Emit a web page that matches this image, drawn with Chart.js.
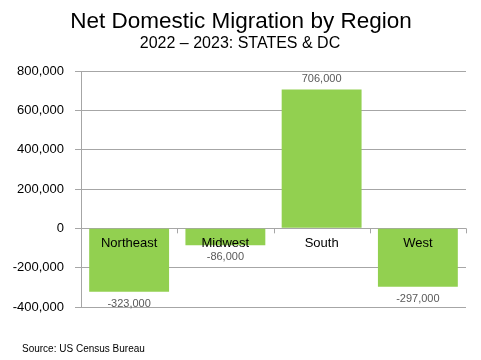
<!DOCTYPE html>
<html>
<head>
<meta charset="utf-8">
<script src="https://cdn.jsdelivr.net/npm/chart.js@4"></script>
<style>
  body { margin: 0; background: #fff; }
  #wrap { width: 481px; height: 360px; }
</style>
</head>
<body>
<div id="wrap"><canvas id="barChart" width="481" height="360"></canvas></div>
<script>
var regions = ['Northeast', 'Midwest', 'South', 'West'];
var migration = [-323000, -86000, 706000, -297000];
var yTicks = [-400000, -200000, 0, 200000, 400000, 600000, 800000];

var fmt = function (v) { return v.toLocaleString('en-US'); };

// title, subtitle, source note, category names and value labels
var extras = {
    id: 'extras',
    afterDraw: function (chart) {
        var c = chart.ctx;
        var x = chart.scales.x, y = chart.scales.y;
        var zero = y.getPixelForValue(0);
        c.save();
        c.textAlign = 'center';
        c.textBaseline = 'alphabetic';
        c.fillStyle = '#000';
        c.font = '22.5px "Liberation Sans", Arial';
        c.fillText('Net Domestic Migration by Region', 241, 28);
        c.font = '16px "Liberation Sans", Arial';
        c.fillText('2022 \u2013 2023: STATES & DC', 240, 48);

        // small ticks under the zero line
        c.strokeStyle = '#a6a6a6';
        c.lineWidth = 1;
        for (var i = 0; i <= regions.length; i++) {
            var px = Math.round(chart.chartArea.left + i * (chart.chartArea.right - chart.chartArea.left) / regions.length) + 0.5;
            c.beginPath();
            c.moveTo(px, zero);
            c.lineTo(px, zero + 5);
            c.stroke();
        }

        c.textBaseline = 'middle';
        regions.forEach(function (name, i) {
            var cx = x.getPixelForValue(i);
            c.fillStyle = '#000';
            c.font = '13px "Liberation Sans", Arial';
            c.fillText(name, cx, zero + 15);
            var v = migration[i];
            var py = y.getPixelForValue(v);
            c.fillStyle = '#595959';
            c.font = '11px "Liberation Sans", Arial';
            c.fillText(fmt(v), cx, v >= 0 ? py - 11 : py + 12);
        });

        c.textAlign = 'left';
        c.fillStyle = '#000';
        c.font = '10px "Liberation Sans Narrow", "Liberation Sans", Arial';
        c.fillText('Source: US Census Bureau', 22, 349);
        c.restore();
    }
};

var ctx = document.getElementById('barChart').getContext('2d');
var myChart = new Chart(ctx, {
    type: 'bar',
    data: {
        labels: regions,
        datasets: [{
            data: migration,
            backgroundColor: '#92D050',
            borderWidth: 0,
            barPercentage: 0.83,
            categoryPercentage: 1
        }]
    },
    options: {
        responsive: false,
        animation: false,
        layout: { padding: { left: 0, right: 15, top: 71, bottom: 53 } },
        plugins: {
            legend: { display: false },
            tooltip: { enabled: false }
        },
        scales: {
            x: { display: false },
            y: {
                min: yTicks[0],
                max: yTicks[yTicks.length - 1],
                afterBuildTicks: function (axis) {
                    axis.ticks = yTicks.map(function (v) { return { value: v }; });
                },
                afterFit: function (axis) { axis.width = 81; },
                border: { color: '#a6a6a6', width: 1 },
                grid: { color: '#a6a6a6', tickLength: 6 },
                ticks: {
                    color: '#000',
                    padding: 11,
                    font: { family: '"Liberation Sans", Arial', size: 13 },
                    callback: function (v) { return fmt(v); }
                }
            }
        }
    },
    plugins: [extras]
});
</script>
</body>
</html>
